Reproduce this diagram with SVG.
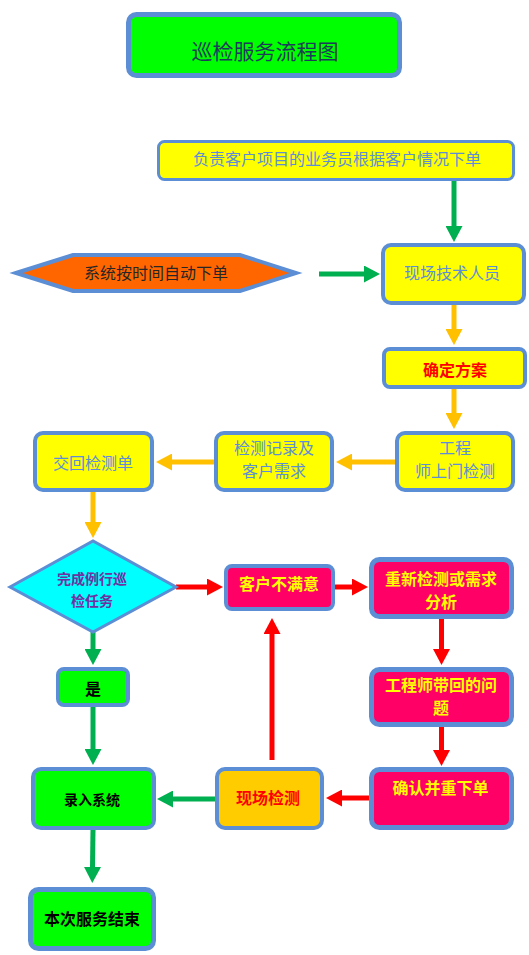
<svg xmlns="http://www.w3.org/2000/svg" width="529" height="955" viewBox="0 0 529 955">
<defs>
<style>
.bx{stroke:#5B8ED5;stroke-width:4}
.yl{fill:#FFFF00}
.pk{fill:#FF0066}
.gr{fill:#00FF00}
.t{font-family:"Noto Sans CJK SC","Noto Sans",sans-serif;font-size:16px;text-anchor:middle;dominant-baseline:central}
.tb{fill:#5B8ED5}
.ty{fill:#FFFF00;font-weight:bold}
.tr{fill:#FF0000;font-weight:bold}
.tk{fill:#000000;font-weight:bold}
.ln{fill:none;stroke-width:5}
.o{stroke:#FFC000}
.g{stroke:#00B050}
.r{stroke:#FF0000}
</style>
<marker id="ao" markerUnits="userSpaceOnUse" markerWidth="16" markerHeight="17" refX="0" refY="8.5" orient="auto"><path d="M0,0 L16,8.5 L0,17 z" fill="#FFC000"/></marker>
<marker id="ag" markerUnits="userSpaceOnUse" markerWidth="16" markerHeight="17" refX="0" refY="8.5" orient="auto"><path d="M0,0 L16,8.5 L0,17 z" fill="#00B050"/></marker>
<marker id="ar" markerUnits="userSpaceOnUse" markerWidth="16" markerHeight="17" refX="0" refY="8.5" orient="auto"><path d="M0,0 L16,8.5 L0,17 z" fill="#FF0000"/></marker>
</defs>
<rect width="529" height="955" fill="#FFFFFF"/>

<g id="connectors">
<line class="ln g" x1="454" y1="181" x2="454" y2="226" marker-end="url(#ag)"/>
<line class="ln g" x1="319" y1="274" x2="364" y2="274" marker-end="url(#ag)"/>
<line class="ln o" x1="454" y1="305" x2="454" y2="329" marker-end="url(#ao)"/>
<line class="ln o" x1="454" y1="389" x2="454" y2="413" marker-end="url(#ao)"/>
<line class="ln o" x1="395" y1="462" x2="352" y2="462" marker-end="url(#ao)"/>
<line class="ln o" x1="214" y1="462" x2="172" y2="462" marker-end="url(#ao)"/>
<line class="ln o" x1="93" y1="492" x2="93" y2="522" marker-end="url(#ao)"/>
<line class="ln r" x1="176" y1="587" x2="207" y2="587" marker-end="url(#ar)"/>
<line class="ln r" x1="335" y1="587" x2="352" y2="587" marker-end="url(#ar)"/>
<line class="ln r" x1="441.5" y1="619" x2="441.5" y2="649" marker-end="url(#ar)"/>
<line class="ln r" x1="441.5" y1="727" x2="441.5" y2="750" marker-end="url(#ar)"/>
<line class="ln r" x1="369" y1="798" x2="342" y2="798" marker-end="url(#ar)"/>
<line class="ln r" x1="272" y1="760" x2="272" y2="634" marker-end="url(#ar)"/>
<line class="ln g" x1="215" y1="799" x2="173" y2="799" marker-end="url(#ag)"/>
<line class="ln g" x1="93" y1="632" x2="93" y2="649" marker-end="url(#ag)"/>
<line class="ln g" x1="93" y1="707" x2="93" y2="749" marker-end="url(#ag)"/>
<line class="ln g" x1="93" y1="830" x2="92.5" y2="867" marker-end="url(#ag)"/>
</g>

<g id="title">
<rect x="128.5" y="14.5" width="271" height="61" rx="8" fill="#00FF00" stroke="#5B8ED5" stroke-width="5"/>
<text class="t" x="265" y="50" style="font-size:21px;fill:#1F3B5A">巡检服务流程图</text>
</g>

<g id="n-salesman">
<rect class="bx yl" x="158.5" y="141.5" width="355" height="38" rx="6" style="stroke-width:3"/>
<text class="t tb" x="337" y="158">负责客户项目的业务员根据客户情况下单</text>
</g>

<g id="n-auto">
<polygon points="16,273 73,255 240,255 296,273 240,291 73,291" fill="#FF6600" stroke="#5B8ED5" stroke-width="4" stroke-linejoin="miter"/>
<text class="t" x="156" y="272" style="fill:#262626">系统按时间自动下单</text>
</g>

<g id="n-tech">
<rect class="bx yl" x="383" y="245" width="141" height="58" rx="8"/>
<text class="t tb" x="452" y="272">现场技术人员</text>
</g>

<g id="n-plan">
<rect class="bx yl" x="384" y="349" width="141" height="38" rx="6"/>
<text class="t tr" x="455" y="369">确定方案</text>
</g>

<g id="n-visit">
<rect class="bx yl" x="397" y="433" width="116" height="57" rx="8"/>
<text class="t tb" x="455" y="447">工程</text>
<text class="t tb" x="455" y="470">师上门检测</text>
</g>

<g id="n-record">
<rect class="bx yl" x="216" y="433" width="116" height="57" rx="8"/>
<text class="t tb" x="274" y="447">检测记录及</text>
<text class="t tb" x="274" y="470">客户需求</text>
</g>

<g id="n-return">
<rect class="bx yl" x="35" y="433" width="117" height="57" rx="8"/>
<text class="t tb" x="93" y="462">交回检测单</text>
</g>

<g id="n-decision">
<polygon points="10,587 93,541 176,587 93,632" fill="#00FFFF" stroke="#5B8ED5" stroke-width="3"/>
<text class="t" x="92" y="578" style="font-size:14px;font-weight:bold;fill:#7030A0">完成例行巡</text>
<text class="t" x="92" y="600" style="font-size:14px;font-weight:bold;fill:#7030A0">检任务</text>
</g>

<g id="n-unsatisfied">
<rect class="bx pk" x="226" y="566" width="107" height="43" rx="6"/>
<text class="t ty" x="279" y="583">客户不满意</text>
</g>

<g id="n-recheck">
<rect class="bx pk" x="371.5" y="559.5" width="140" height="57" rx="8" style="stroke-width:5"/>
<text class="t ty" x="441" y="578">重新检测或需求</text>
<text class="t ty" x="441" y="601">分析</text>
</g>

<g id="n-problem">
<rect class="bx pk" x="371.5" y="669.5" width="140" height="55" rx="8" style="stroke-width:5"/>
<text class="t ty" x="441" y="684">工程师带回的问</text>
<text class="t ty" x="441" y="707">题</text>
</g>

<g id="n-reorder">
<rect class="bx pk" x="371.5" y="769.5" width="140" height="58" rx="8" style="stroke-width:5"/>
<text class="t ty" x="440.5" y="787">确认并重下单</text>
</g>

<g id="n-onsite">
<rect class="bx" x="217" y="769" width="105" height="59" rx="8" fill="#FFCC00"/>
<text class="t tr" x="268" y="797">现场检测</text>
</g>

<g id="n-enter">
<rect class="bx gr" x="33" y="769" width="121" height="59" rx="8"/>
<text class="t tk" x="92" y="799" style="font-size:14px">录入系统</text>
</g>

<g id="n-yes">
<rect class="bx gr" x="58" y="669" width="70" height="36" rx="6"/>
<text class="t tk" x="93" y="688">是</text>
</g>

<g id="n-end">
<rect class="bx gr" x="30.5" y="889.5" width="123" height="59" rx="8" style="stroke-width:5"/>
<text class="t tk" x="92" y="918">本次服务结束</text>
</g>
</svg>
